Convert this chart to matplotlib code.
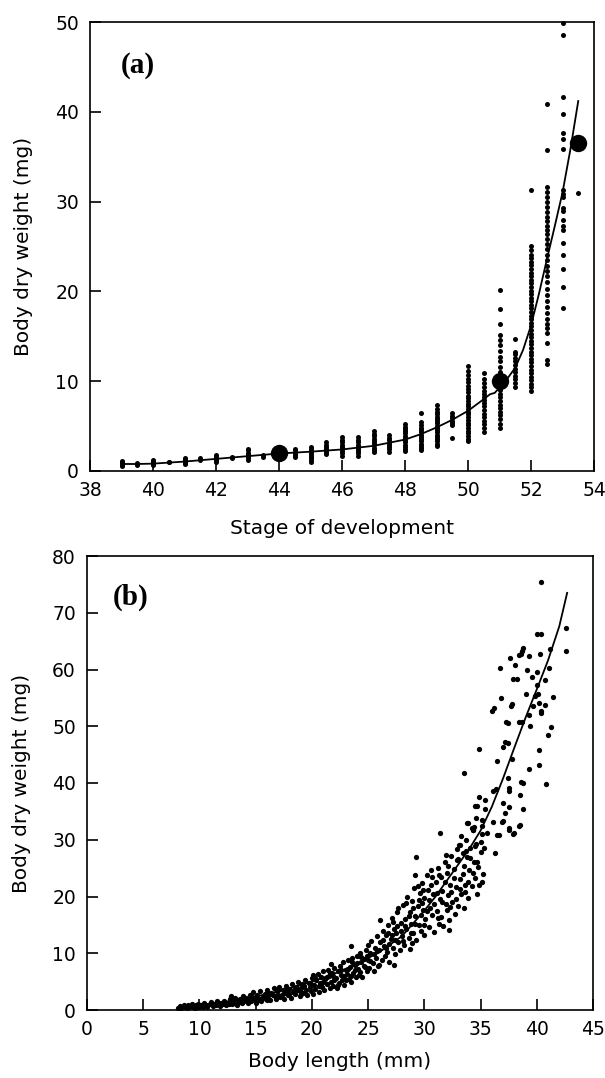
import matplotlib
matplotlib.use("Agg")
import matplotlib.pyplot as plt

# ---------------- Panel (a) data ----------------
stages_a = [39, 39.5, 40, 40.5, 41, 41.5, 42, 42.5, 43, 43.5, 44, 44.5, 45, 45.5,
            46, 46.5, 47, 47.5, 48, 48.5, 49, 49.5, 50, 50.5, 51, 51.5, 52, 52.5, 53, 53.5]
weights_a = [
    [0.55, 0.7, 0.85, 1.0, 1.1],
    [0.7, 0.85],
    [0.65, 0.8, 0.95, 1.1, 1.25],
    [0.95, 1.05],
    [0.75, 0.9, 1.05, 1.2, 1.35, 1.5],
    [1.25, 1.4],
    [1.0, 1.15, 1.3, 1.45, 1.6, 1.75],
    [1.45, 1.6],
    [1.25, 1.45, 1.65, 1.85, 2.05, 2.3, 2.5],
    [1.6, 1.75],
    [1.85, 2.1],
    [1.55, 1.8, 2.05, 2.3, 2.5],
    [1.0, 1.2, 1.4, 1.6, 1.8, 2.0, 2.2, 2.45, 2.7],
    [1.9, 2.1, 2.3, 2.5, 2.7, 2.95, 3.2],
    [1.7, 1.95, 2.2, 2.45, 2.7, 2.95, 3.2, 3.5, 3.8],
    [1.7, 1.95, 2.2, 2.45, 2.7, 2.95, 3.2, 3.5, 3.8],
    [2.1, 2.35, 2.6, 2.85, 3.1, 3.35, 3.6, 3.85, 4.1, 4.45],
    [2.15, 2.4, 2.65, 2.9, 3.15, 3.4, 3.65, 4.0],
    [2.2, 2.45, 2.7, 2.95, 3.2, 3.45, 3.7, 3.95, 4.2, 4.45, 4.7, 4.95, 5.25],
    [2.3, 2.55, 2.8, 3.05, 3.3, 3.55, 3.8, 4.05, 4.3, 4.55, 4.8, 5.1, 5.5, 6.45],
    [2.8, 3.05, 3.3, 3.55, 3.8, 4.05, 4.3, 4.55, 4.8, 5.05, 5.3, 5.55, 5.8, 6.05,
     6.3, 6.6, 6.9, 7.35],
    [3.7, 5.1, 5.35, 5.6, 5.85, 6.1, 6.45],
    [3.3, 3.6, 3.9, 4.2, 4.5, 4.8, 5.1, 5.4, 5.7, 6.0, 6.3, 6.6, 6.9, 7.2, 7.5, 7.8,
     8.1, 8.4, 8.75, 9.1, 9.5, 9.9, 10.3, 10.7, 11.1, 11.65],
    [4.3, 4.75, 5.2, 5.6, 6.0, 6.4, 6.8, 7.2, 7.55, 7.9, 8.25, 8.6, 8.95, 9.35, 9.8,
     10.3, 10.9],
    [4.8, 5.2, 5.8, 6.2, 6.6, 7.0, 7.4, 7.8, 8.2, 8.6, 9.0, 9.4, 9.8, 10.2, 10.5,
     11.05, 11.6, 12.2, 12.7, 13.4, 14.0, 14.6, 15.2, 16.4, 18.0, 20.2],
    [9.4, 9.8, 10.2, 10.6, 11.0, 11.4, 11.8, 12.2, 12.6, 13.0, 13.3, 14.7],
    [8.9, 9.3, 9.7, 10.1, 10.5, 10.9, 11.3, 11.7, 12.1, 12.5, 12.9, 13.3, 13.7, 14.1,
     14.5, 14.9, 15.3, 15.7, 16.1, 16.5, 16.9, 17.3, 17.7, 18.1, 18.5, 18.9, 19.3,
     19.7, 20.1, 20.5, 20.9, 21.3, 21.7, 22.1, 22.5, 22.9, 23.3, 23.7, 24.1, 24.6,
     25.1, 31.25],
    [11.9, 12.4, 14.3, 15.4, 15.9, 16.4, 16.9, 17.6, 18.3, 18.9, 19.6, 20.3, 21.0,
     21.7, 22.3, 22.8, 23.5, 24.1, 24.7, 25.3, 25.8, 26.4, 26.8, 27.3, 27.8, 28.3,
     28.8, 29.4, 30.0, 30.5, 31.1, 31.6, 35.8, 40.85],
    [18.2, 20.5, 22.5, 24.05, 25.4, 26.8, 27.3, 27.95, 28.9, 29.3, 30.5, 30.9, 31.3,
     35.9, 37.0, 37.6, 39.8, 41.7, 48.5, 49.9],
    [31.0],
]
mean_stage = [44, 51, 53.5]
mean_weight = [2.0, 10.0, 36.5]
fit_stage_a = [39, 39.5, 40, 41, 42, 43, 44, 45, 46, 47, 48, 48.5, 49, 49.5, 50,
               50.5, 50.7, 50.85, 51.0, 51.25, 51.5, 51.75, 52, 52.25, 52.5, 52.75,
               53, 53.25, 53.5]
fit_weight_a = [0.78, 0.78, 0.82, 1.05, 1.35, 1.65, 1.95, 2.15, 2.4, 2.8, 3.5, 4.1,
                4.85, 5.7, 6.7, 8.0, 8.55, 8.7, 9.3, 10.3, 11.5, 13.5, 16.2, 19.7,
                23.5, 27.2, 31.0, 35.8, 41.2]

# ---------------- Panel (b) data ----------------
pts_small = [(8.1, 0.4), (8.3, 0.7), (8.4, 0.3), (8.6, 0.9), (8.7, 0.5), (8.9, 0.3),
             (9.0, 0.8), (9.1, 0.5), (9.3, 1.0), (9.4, 0.6), (9.6, 0.4), (9.7, 0.8),
             (9.9, 1.1), (10.0, 0.6), (10.1, 0.9), (10.3, 0.5), (10.4, 1.2), (10.6, 0.8),
             (10.7, 0.6), (10.9, 1.0), (11.0, 1.4), (11.2, 0.7), (11.3, 1.1), (11.5, 0.9),
             (11.6, 1.5), (11.8, 0.7), (11.9, 1.2), (12.1, 1.0), (12.2, 1.6), (12.4, 0.8),
             (12.5, 1.3), (12.7, 1.9), (12.8, 2.5), (12.9, 1.1), (13.0, 1.6), (13.2, 2.2),
             (13.3, 0.9), (13.5, 1.4), (13.6, 1.9), (13.8, 1.2), (13.9, 2.4), (14.0, 1.6),
             (12.3, 1.2), (12.6, 1.0), (13.1, 1.3), (13.4, 1.8), (13.7, 1.5)]
pts_mid1 = [(14.2, 2.0), (14.3, 1.2), (14.5, 2.7), (14.6, 1.5), (14.7, 2.3), (14.8, 3.1),
            (14.9, 1.8), (15.0, 1.3), (15.1, 2.6), (15.3, 2.0), (15.4, 3.3), (15.5, 1.6),
            (15.7, 2.4), (15.8, 2.9), (15.9, 1.9), (16.0, 3.6), (16.1, 2.2), (16.3, 1.7),
            (16.4, 3.0), (16.5, 2.6), (16.6, 3.8), (16.8, 2.0), (16.9, 3.3), (17.0, 2.7),
            (17.1, 4.0), (17.2, 2.3), (17.4, 3.5), (17.5, 1.9), (17.6, 3.0), (17.7, 4.3),
            (17.9, 2.6), (18.0, 3.7), (18.1, 2.2), (18.2, 4.6), (18.3, 3.2), (18.5, 2.8),
            (18.6, 4.1), (18.7, 3.5), (18.8, 5.0), (18.9, 2.5), (19.0, 3.9), (19.1, 4.5),
            (19.2, 3.0), (19.4, 5.3), (19.5, 3.6), (19.6, 2.7), (19.7, 4.8), (19.8, 4.1),
            (19.9, 3.3), (20.0, 5.7), (20.1, 6.2), (20.1, 2.9),
            (14.1, 2.2), (14.4, 1.7), (14.8, 2.0), (15.2, 1.7), (15.6, 2.1), (15.9, 2.6),
            (16.2, 2.9), (16.7, 2.4), (17.3, 2.7), (17.8, 3.4), (18.4, 3.6), (18.9, 3.3),
            (19.3, 4.2), (19.9, 4.5), (15.0, 2.3), (16.0, 1.8), (17.0, 3.6), (18.0, 2.9),
            (19.0, 2.9)]
pts_mid2 = [(20.2, 4.4), (20.3, 3.7), (20.4, 5.2), (20.5, 6.4), (20.6, 3.2), (20.7, 4.8),
            (20.8, 5.8), (20.9, 4.0), (21.0, 6.8), (21.1, 3.6), (21.2, 5.4), (21.3, 4.6),
            (21.4, 7.0), (21.5, 6.0), (21.6, 3.9), (21.7, 8.1), (21.7, 5.0), (21.8, 6.5),
            (21.9, 4.3), (22.0, 7.4), (22.1, 5.6), (22.2, 3.8), (22.3, 6.9), (22.4, 4.8),
            (22.5, 7.8), (22.6, 6.1), (22.7, 5.2), (22.8, 8.4), (22.9, 4.4), (23.0, 7.0),
            (23.1, 6.3), (23.2, 8.8), (23.3, 5.5), (23.4, 7.6), (23.5, 11.2), (23.5, 4.9),
            (23.6, 9.2), (23.7, 6.6), (23.8, 8.0), (23.9, 5.8), (24.0, 9.6), (24.1, 7.2),
            (24.2, 6.2), (24.3, 10.1), (24.4, 8.5), (24.5, 5.9), (24.6, 9.0), (24.7, 7.5),
            (24.8, 10.6), (24.9, 6.8), (25.0, 8.8), (25.0, 11.4),
            (20.3, 5.6), (20.6, 4.2), (21.0, 4.9), (21.3, 5.9), (21.6, 6.6), (22.0, 5.3),
            (22.3, 4.4), (22.6, 7.0), (22.9, 6.0), (23.2, 7.3), (23.5, 6.0), (23.8, 7.0),
            (24.0, 8.2), (24.3, 6.7), (24.6, 7.8), (24.9, 9.5), (23.0, 5.2), (21.9, 6.0),
            (24.4, 9.4), (23.6, 8.4)]
pts_mid3 = [(25.1, 7.4), (25.2, 10.0), (25.3, 12.2), (25.4, 8.3), (25.5, 6.9), (25.6, 11.0),
            (25.7, 9.2), (25.8, 13.0), (25.9, 7.8), (26.0, 10.6), (26.1, 15.8), (26.1, 12.0),
            (26.2, 8.8), (26.3, 14.0), (26.4, 11.3), (26.5, 9.6), (26.6, 13.2), (26.7, 10.3),
            (26.8, 15.0), (26.9, 8.4), (27.0, 12.5), (27.1, 16.2), (27.2, 11.0), (27.3, 7.9),
            (27.3, 14.3), (27.4, 9.8), (27.5, 13.6), (27.6, 17.2), (27.7, 12.0), (27.7, 17.9),
            (27.8, 10.5), (27.9, 15.4), (28.0, 13.0), (28.1, 18.5), (28.2, 11.4), (28.3, 16.0),
            (28.4, 14.2), (28.5, 20.0), (28.6, 12.6), (28.7, 17.3), (28.7, 10.8), (28.8, 15.2),
            (28.9, 19.2), (29.0, 13.5), (29.1, 21.5), (29.2, 16.6), (29.2, 23.8), (29.3, 27.0),
            (29.3, 12.4), (29.4, 18.4), (29.5, 15.0), (29.6, 20.6), (29.7, 14.0), (29.8, 22.4),
            (29.9, 17.6), (30.0, 13.2), (30.0, 19.8), (30.2, 23.8), (30.1, 16.0),
            (25.2, 8.6), (25.5, 9.8), (25.8, 10.4), (26.0, 8.0), (26.3, 12.4), (26.6, 10.9),
            (26.9, 11.7), (27.1, 13.3), (27.4, 12.3), (27.6, 14.8), (27.9, 13.9), (28.1, 12.2),
            (28.3, 14.8), (28.6, 16.5), (28.8, 13.6), (29.0, 17.9), (29.2, 15.2), (29.5, 19.4),
            (29.7, 16.8), (29.9, 21.2), (30.0, 15.0), (28.4, 18.9), (29.4, 21.9), (29.8, 18.9),
            (27.2, 15.5), (26.8, 13.6), (28.9, 11.8)]
pts_mid4 = [(30.3, 21.2), (30.4, 14.6), (30.5, 18.0), (30.6, 24.6), (30.7, 16.8), (30.8, 20.4),
            (30.9, 13.8), (31.0, 22.6), (31.1, 17.5), (31.2, 25.0), (31.3, 15.2), (31.4, 19.6),
            (31.4, 31.2), (31.5, 23.4), (31.5, 16.4), (31.6, 21.0), (31.7, 14.8), (31.8, 26.0),
            (31.9, 18.6), (32.0, 24.2), (32.1, 20.2), (32.2, 15.9), (32.2, 14.1), (32.3, 22.0),
            (32.4, 27.2), (32.5, 19.0), (32.6, 24.8), (32.7, 17.0), (32.8, 21.6), (32.9, 26.4),
            (33.0, 18.4), (33.1, 29.1), (33.2, 23.0), (33.3, 20.5), (33.4, 27.6), (33.5, 25.4),
            (33.6, 22.0), (33.7, 30.0), (33.8, 27.0), (33.9, 19.8), (34.0, 24.6), (34.1, 28.6),
            (34.2, 21.8), (34.3, 31.7), (34.4, 26.0), (34.5, 23.2), (34.6, 29.2), (34.7, 20.4),
            (34.8, 25.2), (35.0, 27.8), (35.1, 22.6), (35.1, 31.1), (35.2, 24.0),
            (30.2, 17.5), (30.4, 19.3), (30.6, 22.0), (30.9, 18.6), (31.1, 20.6), (31.3, 23.8),
            (31.6, 19.0), (31.8, 22.5), (32.0, 17.6), (32.1, 25.4), (32.4, 20.8), (32.6, 23.2),
            (32.8, 19.6), (33.0, 26.6), (33.2, 21.4), (33.4, 24.0), (33.5, 18.0), (33.7, 28.0),
            (33.9, 22.6), (34.1, 26.8), (34.3, 24.2), (34.5, 28.9), (34.7, 26.0), (34.9, 22.0),
            (35.0, 29.6), (30.7, 23.4), (31.9, 27.3), (32.9, 28.4), (33.3, 30.6), (34.6, 33.8),
            (31.2, 16.2), (32.3, 18.2), (33.6, 20.8), (35.3, 28.6)]
pts_large = [(35.4, 37.0), (35.4, 35.5), (34.5, 36.0), (34.7, 36.0), (36.1, 38.6), (36.4, 38.9),
             (37.0, 36.4), (37.5, 35.8), (37.2, 34.7), (37.5, 38.6), (37.5, 39.1), (38.5, 37.9),
             (38.8, 35.5), (38.6, 40.2), (38.8, 40.0), (40.8, 39.9), (33.5, 41.8), (37.4, 40.9),
             (36.5, 43.9), (37.8, 44.3), (39.3, 42.4), (40.2, 43.2), (34.9, 46.0), (37.2, 47.2),
             (37.0, 46.4), (37.4, 47.0), (40.2, 45.9), (41.0, 48.4), (39.4, 50.1), (41.3, 49.8),
             (37.3, 50.8), (37.4, 50.6), (38.4, 50.8), (38.7, 50.8), (39.3, 51.9), (40.4, 52.7),
             (40.4, 52.4), (40.7, 53.8), (36.2, 53.3), (36.0, 52.7), (36.8, 54.9), (37.7, 53.6),
             (37.8, 53.9), (39.0, 55.6), (40.1, 55.7), (41.4, 55.2), (39.8, 55.3), (40.2, 54.1),
             (39.7, 53.5), (40.0, 57.3), (37.9, 58.3), (38.2, 58.3), (39.1, 59.9), (39.6, 58.7),
             (40.0, 59.6), (40.7, 58.1), (41.1, 60.3), (36.7, 60.2), (38.1, 60.8), (37.6, 62.0),
             (38.4, 62.5), (38.7, 63.3), (38.8, 63.8), (38.6, 62.8), (39.3, 62.3), (40.3, 62.8),
             (41.2, 63.7), (40.0, 66.2), (40.4, 66.2), (40.4, 75.4), (42.6, 67.4), (42.6, 63.3),
             (36.9, 33.2), (38.5, 32.6), (37.9, 31.1), (36.5, 30.8), (36.6, 30.9), (34.3, 31.7),
             (34.4, 32.2), (34.2, 32.0), (35.1, 32.4), (35.6, 31.2), (33.8, 33.0), (36.1, 33.2),
             (37.0, 33.3), (37.5, 32.0), (33.9, 32.9), (37.5, 31.7), (38.4, 32.5), (38.0, 31.2),
             (36.3, 27.6), (33.2, 29.1), (34.9, 37.6), (35.1, 33.5)]
fit_length_b = [8.3, 10, 12, 14, 16, 18, 20, 22, 24, 26, 28, 30, 31, 32, 33, 34, 35, 36,
                37, 38, 39, 40, 41, 42, 42.7]
fit_weight_b = [0.45, 0.85, 1.35, 2.0, 2.8, 3.8, 5.0, 6.4, 8.1, 10.2, 13.0, 17.5, 20.0,
                22.8, 25.6, 28.4, 31.6, 35.8, 40.8, 46.2, 51.5, 56.5, 61.6, 67.6, 73.5]

# ---------------- Figure ----------------
W, H = 605, 1078
fig = plt.figure(figsize=(W / 100, H / 100), dpi=100)
FONT = "DejaVu Sans"
TICK_FS = 13.5
LAB_FS = 14.5


def style(ax):
    for s in ax.spines.values():
        s.set_linewidth(1.2)
    ax.tick_params(direction="in", length=8, width=1.2, top=False, right=False,
                   labelsize=TICK_FS)
    ax.tick_params(axis="x", pad=7)
    ax.tick_params(axis="y", pad=8)
    for lab in ax.get_xticklabels() + ax.get_yticklabels():
        lab.set_fontfamily(FONT)


# Panel (a): axes box x 90..594, y 22..471
axa = fig.add_axes([90 / W, 1 - 471 / H, 504 / W, 449 / H])
for st, ws in zip(stages_a, weights_a):
    axa.plot([st] * len(ws), ws, "o", ms=3.6, color="black", mec="none", clip_on=False)
axa.plot(fit_stage_a, fit_weight_a, "-", color="black", lw=1.3)
axa.plot(mean_stage, mean_weight, "o", ms=12.5, color="black", mec="none", clip_on=False)
axa.set_xlim(38, 54)
axa.set_ylim(0, 50)
axa.set_xticks(range(38, 55, 2))
axa.set_yticks(range(0, 51, 10))
style(axa)
axa.set_xlabel("Stage of development", fontsize=LAB_FS, family=FONT)
axa.set_ylabel("Body dry weight (mg)", fontsize=LAB_FS, family=FONT)
axa.xaxis.set_label_coords(0.5, -0.108)
axa.yaxis.set_label_coords(-0.113, 0.5)
axa.text(0.095, 0.904, "(a)", transform=axa.transAxes, fontsize=21,
         fontweight="bold", family="Liberation Serif", ha="center", va="center")

# Panel (b): axes box x 87..593, y 556..1010
axb = fig.add_axes([87 / W, 1 - 1010 / H, 506 / W, 454 / H])
all_pts = pts_small + pts_mid1 + pts_mid2 + pts_mid3 + pts_mid4 + pts_large
lb = [p[0] for p in all_pts]
wb = [p[1] for p in all_pts]
axb.plot(lb, wb, "o", ms=3.8, color="black", mec="none")
axb.plot(fit_length_b, fit_weight_b, "-", color="black", lw=1.3)
axb.set_xlim(0, 45)
axb.set_ylim(0, 80)
axb.set_xticks(range(0, 46, 5))
axb.set_yticks(range(0, 81, 10))
style(axb)
axb.set_xlabel("Body length (mm)", fontsize=LAB_FS, family=FONT)
axb.set_ylabel("Body dry weight (mg)", fontsize=LAB_FS, family=FONT)
axb.xaxis.set_label_coords(0.5, -0.093)
axb.yaxis.set_label_coords(-0.11, 0.5)
axb.text(0.087, 0.91, "(b)", transform=axb.transAxes, fontsize=21,
         fontweight="bold", family="Liberation Serif", ha="center", va="center")

fig.savefig("out.png", dpi=100)
